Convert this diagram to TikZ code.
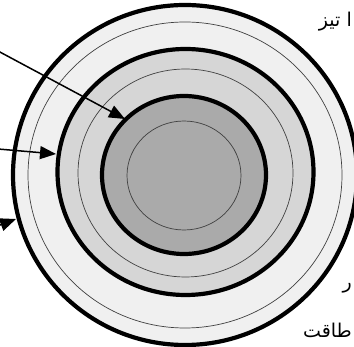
\documentclass[tikz,border=0pt]{standalone}
\usepackage{fontspec}
\usetikzlibrary{arrows.meta}
\newfontfamily\urdufont[Script=Arabic]{DejaVu Sans}
\TeXXeTstate=1
\definecolor{ringA}{gray}{0.94}
\definecolor{ringB}{gray}{0.84}
\definecolor{ringC}{gray}{0.665}
\tikzset{
  thickring/.style={line width=4.2pt, draw=black},
  thinring/.style={line width=0.7pt, draw=black!75},
  pointer/.style={line width=1.5pt, -{Triangle[length=16pt,width=13pt]}},
  urdu/.style={font=\urdufont\fontsize{19}{22}\selectfont, inner sep=0pt}
}
\begin{document}
\begin{tikzpicture}[x=1pt,y=-1pt]
\useasboundingbox (0,0) rectangle (354,347);
\fill[white] (0,0) rectangle (354,347);
\begin{scope}
\clip (0,0) rectangle (354,347);
% filled discs
\fill[ringA] (185,175) ellipse [x radius=172, y radius=170];
\fill[ringB] (185.5,172) ellipse [x radius=128, y radius=123];
\fill[ringC] (184,175) ellipse [x radius=82, y radius=79];
% thin rings
\draw[thinring] (185,175) ellipse [x radius=157, y radius=153];
\draw[thinring] (185.5,173) ellipse [x radius=107.5, y radius=104];
\draw[thinring] (184,175.5) ellipse [x radius=57, y radius=54.5];
% thick rings
\draw[thickring] (185,175) ellipse [x radius=172, y radius=170];
\draw[thickring] (185.5,172) ellipse [x radius=128, y radius=123];
\draw[thickring] (184,175) ellipse [x radius=82, y radius=79];
% arrows
\coordinate (s1) at (-2,51);
\coordinate (t1) at (125,119);
\coordinate (s2) at (-2,149);
\coordinate (t2) at (56,154);
\coordinate (s3) at (-8,228);
\coordinate (t3) at (16,219);
\draw[pointer] (s1) -- (t1);
\draw[pointer] (s2) -- (t2);
\draw[pointer] (s3) -- (t3);
\end{scope}
% text fragments
\node[urdu, anchor=east] (txa) at (352,22) {\beginR ا تیز\endR};
\node[urdu, anchor=east] (txb) at (352,288) {\beginR ر\endR};
\node[urdu, anchor=east] (txc) at (352,330) {\beginR طاقت\endR};
\end{tikzpicture}
\end{document}
